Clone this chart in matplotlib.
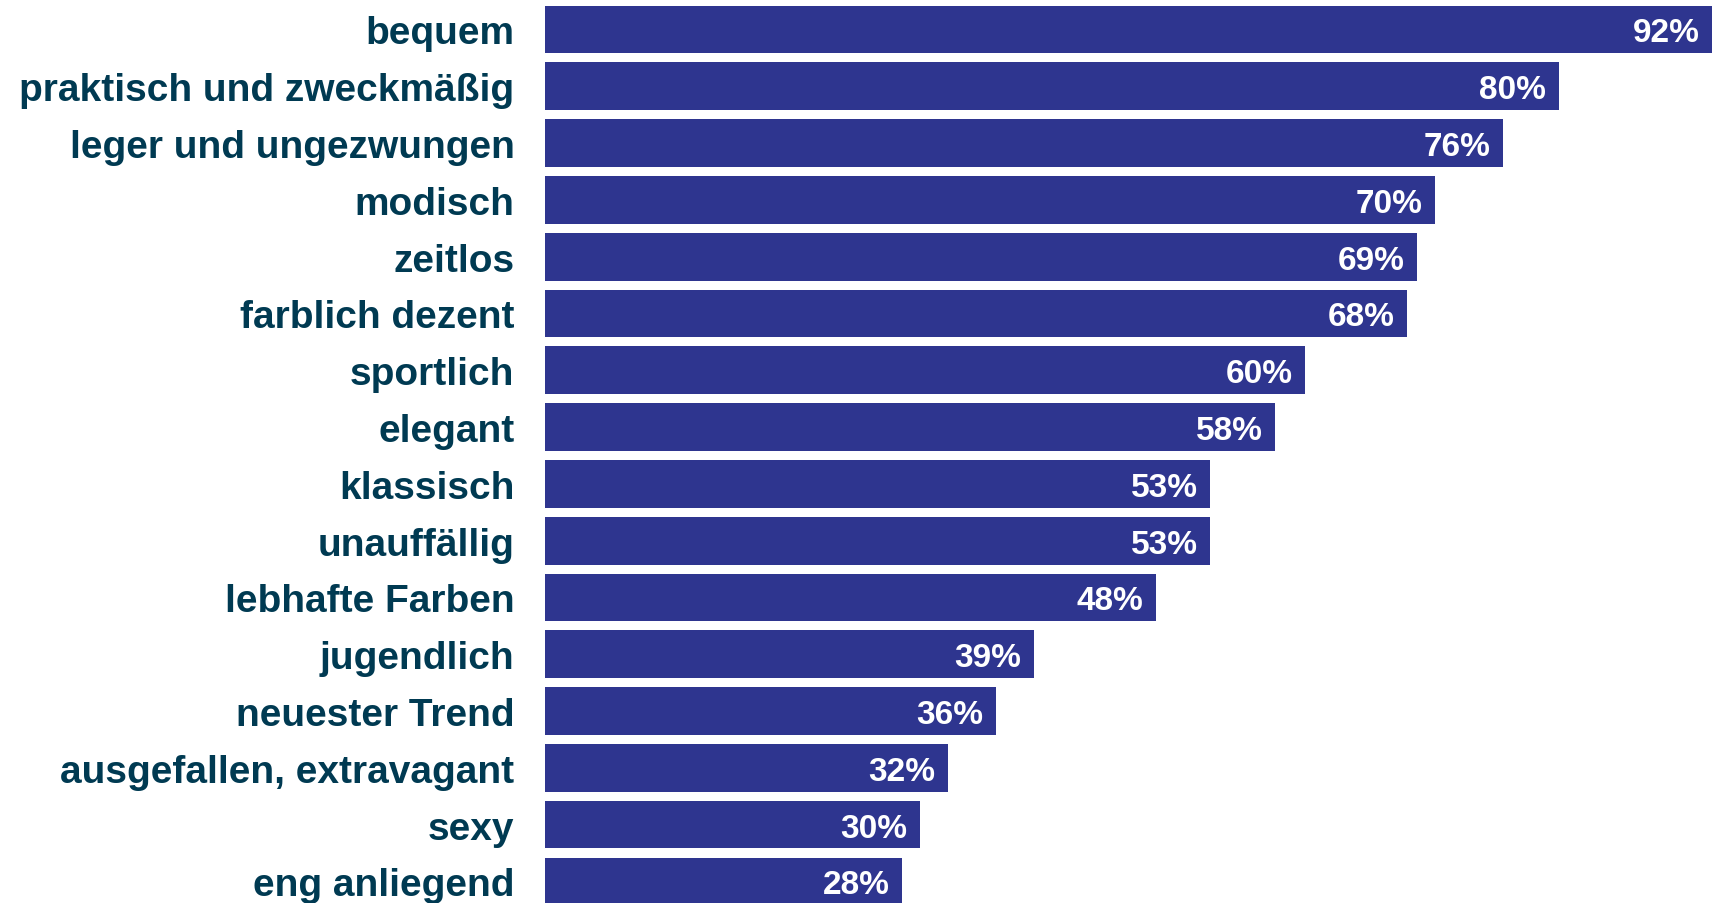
import matplotlib.pyplot as plt

# Data (bar lengths, printed labels as shown)
labels = ["bequem", "praktisch und zweckmäßig", "leger und ungezwungen", "modisch",
          "zeitlos", "farblich dezent", "sportlich", "elegant", "klassisch",
          "unauffällig", "lebhafte Farben", "jugendlich", "neuester Trend",
          "ausgefallen, extravagant", "sexy", "eng anliegend"]
values = [92.1, 80.0, 75.6, 70.2, 68.8, 68.0, 60.0, 57.6, 52.5, 52.5,
          48.2, 38.6, 35.6, 31.8, 29.6, 28.2]
value_labels = ["92%", "80%", "76%", "70%", "69%", "68%", "60%", "58%", "53%",
                "53%", "48%", "39%", "36%", "32%", "30%", "28%"]

bar_color = "#2E358F"
label_color = "#003A52"

fig = plt.figure(figsize=(17.13, 9.04), dpi=100)
ax = fig.add_axes([545 / 1713, 0, 1 - 545 / 1713, 1])

ypos = list(range(len(labels)))
ax.barh(ypos, values, height=0.84, color=bar_color)

for y, v, t in zip(ypos, values, value_labels):
    ax.text(v - 1.0, y, t, ha="right", va="center_baseline", color="white",
            fontsize=24, fontweight="bold", family="Liberation Sans")

ax.set_xlim(0, 92.15)
ax.set_ylim(15.38, -0.537)
ax.set_yticks(ypos)
ax.set_yticklabels(labels, fontsize=28, fontweight="bold", color=label_color,
                   family="Liberation Sans")
ax.tick_params(axis="y", length=0, pad=22)
ax.set_xticks([])
for s in ax.spines.values():
    s.set_visible(False)

fig.savefig("out.png", dpi=100)
